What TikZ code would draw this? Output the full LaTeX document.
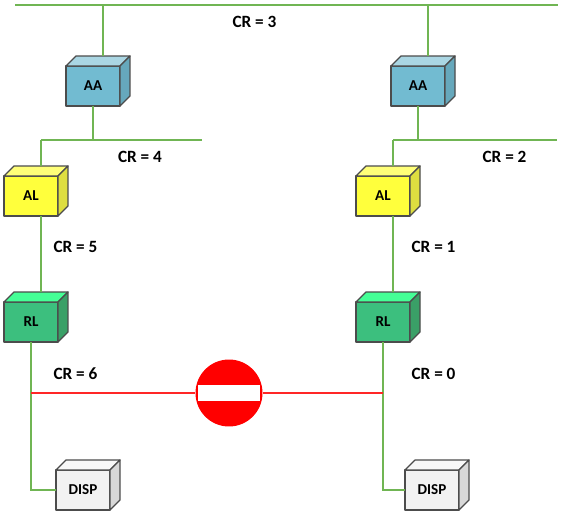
\documentclass[tikz,border=0pt]{standalone}
\usepackage{fontspec}
\setmainfont{Carlito}
\definecolor{linkgreen}{HTML}{70B553}
\definecolor{stopred}{HTML}{FF0000}
\definecolor{aafront}{HTML}{72BBD1}
\definecolor{aatop}{HTML}{AAD6E3}
\definecolor{aaside}{HTML}{66A8BC}
\definecolor{alfront}{HTML}{FFFF3C}
\definecolor{altop}{HTML}{FFFF78}
\definecolor{alside}{HTML}{DEDE40}
\definecolor{rlfront}{HTML}{3CBF7E}
\definecolor{rltop}{HTML}{45FF96}
\definecolor{rlside}{HTML}{3AA067}
\definecolor{dispfront}{HTML}{F2F2F2}
\definecolor{disptop}{HTML}{F8F8F8}
\definecolor{dispside}{HTML}{D8D8D8}
\tikzset{
    face/.style={draw=black!70, line width=0.7pt, line join=round},
    unit/.style={style=face, minimum width=1.08cm, minimum height=0.8cm, inner sep=0, outer sep=0, font=\bfseries\fontsize{8.6}{9}\selectfont},
    link/.style={draw=linkgreen, line width=1.2pt},
    blocked/.style={draw=stopred!85!white, line width=1.2pt},
    cr/.style={font=\bfseries\fontsize{9.8}{10}\selectfont},
}
\begin{document}
\begin{tikzpicture}[x=0.02cm, y=-0.02cm]
        \useasboundingbox[fill=white] (0, 0) rectangle (561, 517);

        \node[unit, fill=aafront] (aa_left) at (93, 86) {AA};
        \node[unit, fill=alfront] (al_left) at (31, 196) {AL};
        \node[unit, fill=rlfront] (rl_left) at (31, 322) {RL};
        \node[unit, fill=dispfront] (disp_left) at (83, 490) {DISP};

        \node[unit, fill=aafront] (aa_right) at (418, 86) {AA};
        \node[unit, fill=alfront] (al_right) at (383, 196) {AL};
        \node[unit, fill=rlfront] (rl_right) at (383, 322) {RL};
        \node[unit, fill=dispfront] (disp_right) at (432, 490) {DISP};

        % top and side faces of the boxes, and the middle of the back edge
        \foreach \name/\kind in {aa_left/aa, al_left/al, rl_left/rl, disp_left/disp, aa_right/aa, al_right/al, rl_right/rl, disp_right/disp} {
            \draw[face, fill=\kind top] (\name.north west) -- ([shift={(10,-10)}]\name.north west) -- ([shift={(10,-10)}]\name.north east) -- (\name.north east) -- cycle;
            \draw[face, fill=\kind side] (\name.north east) -- ([shift={(10,-10)}]\name.north east) -- ([shift={(10,-10)}]\name.south east) -- (\name.south east) -- cycle;
            \coordinate (\name_back) at ([shift={(10,-10)}]\name.north);
        }

        \coordinate (bus_start) at (15, 5);
        \coordinate (bus_end) at (558, 5);
        \coordinate (lan_left_start) at (41, 140);
        \coordinate (lan_left_end) at (202, 140);
        \coordinate (lan_right_start) at (393, 140);
        \coordinate (lan_right_end) at (557, 140);

        \draw[link] (bus_start) to (bus_end);
        \draw[link] (lan_left_start) to (lan_left_end);
        \draw[link] (lan_right_start) to (lan_right_end);

        \draw[link] (aa_left_back) to (aa_left_back |- bus_start);
        \draw[link] (aa_right_back) to (aa_right_back |- bus_start);
        \draw[link] (aa_left.south) to (aa_left.south |- lan_left_start);
        \draw[link] (aa_right.south) to (aa_right.south |- lan_right_start);
        \draw[link] (al_left_back) to (al_left_back |- lan_left_start);
        \draw[link] (al_right_back) to (al_right_back |- lan_right_start);
        \draw[link] (rl_left_back) to (rl_left_back |- al_left.south);
        \draw[link] (rl_right_back) to (rl_right_back |- al_right.south);
        \draw[link] (rl_left.south) |- (disp_left.west);
        \draw[link] (rl_right.south) |- (disp_right.west);

        \node[circle, fill=stopred, minimum size=1.34cm, inner sep=0] (stop) at (229, 393) {};
        \node[fill=white, minimum width=1.24cm, minimum height=0.31cm, inner sep=0] (stop_bar) at (stop) {};
        \coordinate (junction_left) at (31, 393);
        \coordinate (junction_right) at (383, 393);
        \draw[blocked] (junction_left) to (stop.west);
        \draw[blocked] (stop.east) to (junction_right);

        \node[cr] (cr3) at (254.5, 22) {CR = 3};
        \node[cr] (cr4) at (140, 157) {CR = 4};
        \node[cr] (cr5) at (75.5, 247) {CR = 5};
        \node[cr] (cr6) at (75.5, 373.5) {CR = 6};
        \node[cr] (cr2) at (504.5, 157) {CR = 2};
        \node[cr] (cr1) at (433.5, 247) {CR = 1};
        \node[cr] (cr0) at (433.5, 373.5) {CR = 0};
\end{tikzpicture}
\end{document}
